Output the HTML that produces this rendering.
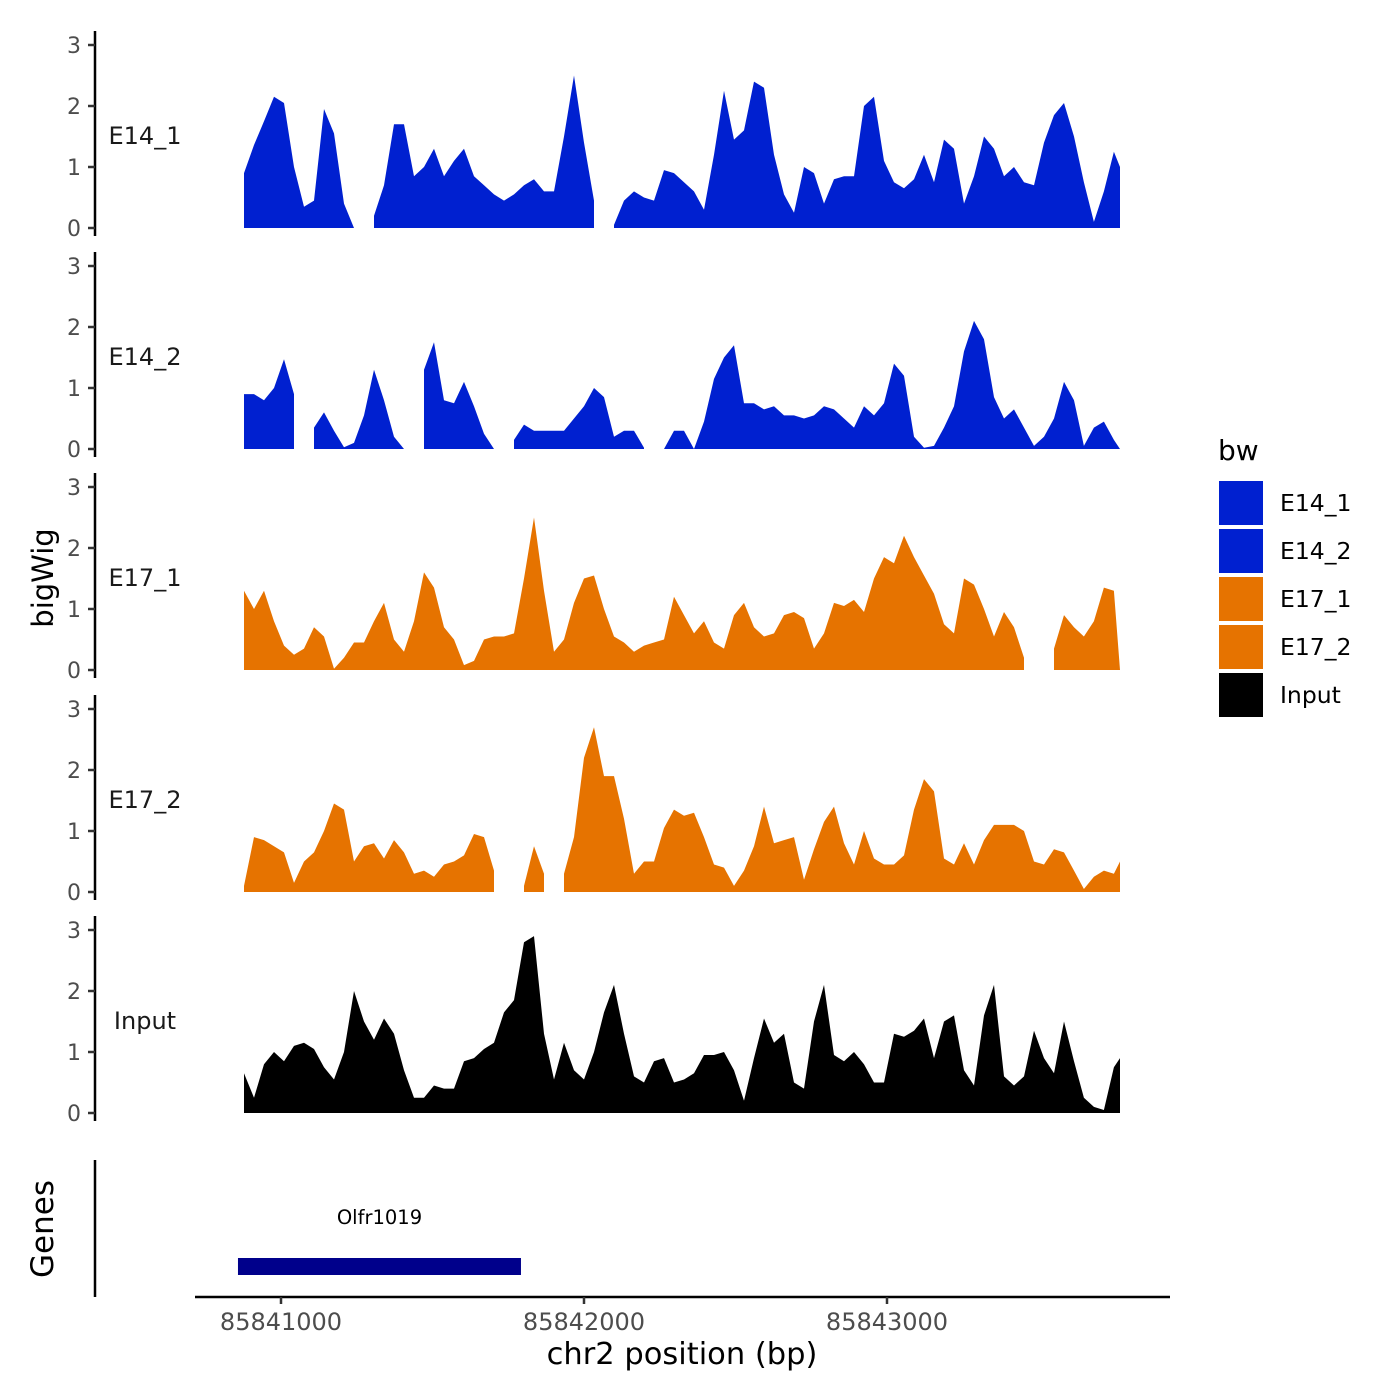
<!DOCTYPE html>
<html><head><meta charset="utf-8">
<style>
html,body{margin:0;padding:0;background:#fff;}
svg{display:block;font-family:"DejaVu Sans","Liberation Sans",sans-serif;}
</style></head>
<body>
<svg id="chart" width="1400" height="1400" viewBox="0 0 1400 1400"></svg>
<script>
// ---- data ----
const START = 85840878;
const END = 85843769;
const STEP = 33;
const xTicks = [85841000, 85842000, 85843000];
const xTickLabels = ["85841000", "85842000", "85843000"];
const yTicks = [0, 1, 2, 3];
const trackNames = ["E14_1", "E14_2", "E17_1", "E17_2", "Input"];
const trackColors = ["#0020d0", "#0020d0", "#e67300", "#e67300", "#000000"];
const E14_1 = [0.9,1.36,1.75,2.15,2.05,1.0,0.35,0.45,1.95,1.55,
0.4,0,null,0.2,0.7,1.7,1.7,0.85,1.0,1.3,
0.85,1.1,1.3,0.85,0.7,0.55,0.45,0.55,0.7,0.8,
0.6,0.6,1.5,2.5,1.4,0.45,null,0.05,0.45,0.6,
0.5,0.45,0.95,0.9,0.75,0.6,0.3,1.2,2.25,1.45,
1.6,2.4,2.3,1.2,0.55,0.25,1.0,0.9,0.4,0.8,
0.85,0.85,2.0,2.15,1.1,0.75,0.65,0.8,1.2,0.75,
1.45,1.3,0.4,0.85,1.5,1.3,0.85,1.0,0.75,0.7,
1.4,1.85,2.05,1.5,0.75,0.1,0.6,1.25,1.0];
const E14_2 = [0.9,0.9,0.8,1.0,1.47,0.9,null,0.35,0.6,0.3,
0.03,0.1,0.55,1.3,0.8,0.2,0,null,1.3,1.75,
0.8,0.75,1.1,0.7,0.25,0,null,0.15,0.4,0.3,
0.3,0.3,0.3,0.5,0.7,1.0,0.85,0.2,0.3,0.3,
0.02,null,0,0.3,0.3,0,0.45,1.15,1.5,1.7,
0.75,0.75,0.65,0.7,0.55,0.55,0.5,0.55,0.7,0.65,
0.5,0.35,0.7,0.55,0.75,1.4,1.2,0.2,0.02,0.05,
0.35,0.7,1.6,2.1,1.8,0.85,0.5,0.65,0.35,0.05,
0.2,0.5,1.1,0.8,0.05,0.35,0.45,0.15,0];
const E17_1 = [1.3,1.0,1.3,0.8,0.4,0.25,0.35,0.7,0.55,0.02,
0.2,0.45,0.45,0.8,1.1,0.5,0.3,0.8,1.6,1.35,
0.7,0.5,0.08,0.15,0.5,0.55,0.55,0.6,1.5,2.5,
1.3,0.3,0.5,1.1,1.5,1.55,1.0,0.55,0.45,0.3,
0.4,0.45,0.5,1.2,0.9,0.6,0.8,0.45,0.35,0.9,
1.1,0.7,0.55,0.6,0.9,0.95,0.85,0.35,0.6,1.1,
1.05,1.15,0.95,1.5,1.85,1.75,2.2,1.85,1.55,1.25,
0.75,0.6,1.5,1.4,1.0,0.55,0.95,0.7,0.2,null,
null,0.35,0.9,0.7,0.55,0.8,1.35,1.3,0];
const E17_2 = [0.1,0.9,0.85,0.75,0.65,0.15,0.5,0.65,1.0,1.45,
1.35,0.5,0.75,0.8,0.55,0.85,0.65,0.3,0.35,0.25,
0.45,0.5,0.6,0.95,0.9,0.35,null,null,0.1,0.75,
0.3,null,0.3,0.9,2.2,2.7,1.9,1.9,1.2,0.3,
0.5,0.5,1.05,1.35,1.25,1.3,0.9,0.45,0.4,0.1,
0.35,0.75,1.4,0.8,0.85,0.9,0.2,0.7,1.15,1.4,
0.8,0.45,1.0,0.55,0.45,0.45,0.6,1.35,1.85,1.65,
0.55,0.45,0.8,0.45,0.85,1.1,1.1,1.1,1.0,0.5,
0.45,0.7,0.65,0.35,0.05,0.25,0.35,0.3,0.5];
const INPUT = [0.65,0.25,0.8,1.0,0.85,1.1,1.15,1.05,0.75,0.55,
1.0,2.0,1.5,1.2,1.55,1.3,0.7,0.25,0.25,0.45,
0.4,0.4,0.85,0.9,1.05,1.15,1.65,1.85,2.8,2.9,
1.3,0.55,1.15,0.7,0.55,1.0,1.65,2.1,1.3,0.6,
0.5,0.85,0.9,0.5,0.55,0.65,0.95,0.95,1.0,0.7,
0.2,0.9,1.55,1.15,1.3,0.5,0.4,1.5,2.1,0.95,
0.85,1.0,0.8,0.5,0.5,1.3,1.25,1.35,1.55,0.9,
1.5,1.6,0.7,0.45,1.6,2.1,0.6,0.45,0.6,1.35,
0.9,0.65,1.5,0.85,0.25,0.1,0.05,0.75,0.9];
const trackValues = [E14_1, E14_2, E17_1, E17_2, INPUT];
const geneName = "Olfr1019";
const geneStart = 85840858;
const geneEnd = 85841792;

// ---- scales ----
const xScale = bp => 281 + (bp - 85841000) * 0.303;
const panelBase = [228, 449, 670, 892, 1113];
const UNIT = 61;
const yScale = (p, v) => panelBase[p] - v * UNIT;

const NS = "http://www.w3.org/2000/svg";
const svg = document.getElementById("chart");
function mk(tag, attrs, parent) {
  const e = document.createElementNS(NS, tag);
  for (const k in attrs) e.setAttribute(k, attrs[k]);
  (parent || svg).appendChild(e);
  return e;
}

trackValues.forEach((vals, p) => {
  const g = mk("g", {});
  
  
  const top = panelBase[p] - 197, bot = panelBase[p] + 8;
  const ax = mk("line", {x1: 95, x2: 95, y1: top, y2: bot, stroke: "#000", "stroke-width": 2.5}, g);
  
  
  yTicks.forEach(t => {
    const y = yScale(p, t);
    const tk = mk("line", {x1: 88, x2: 95, y1: y, y2: y, stroke: "#333", "stroke-width": 2.5}, g);
    
    
    const tl = mk("text", {x: 81, y: y + 8, "text-anchor": "end", "font-size": 22, fill: "#4d4d4d"}, g);
    tl.textContent = String(t);
    
    
  });
  const lab = mk("text", {x: 145, y: panelBase[p] - 84, "text-anchor": "middle", "font-size": 24, fill: "#1a1a1a"}, g);
  lab.textContent = trackNames[p];
  
  
  let seg = [];
  const segs = [];
  vals.forEach((v, i) => {
    if (v === null) { if (seg.length) segs.push(seg); seg = []; return; }
    const bp = Math.min(START + i * STEP, END);
    seg.push([xScale(bp), yScale(p, v)]);
  });
  if (seg.length) segs.push(seg);
  segs.forEach(s => {
    const b = panelBase[p];
    let d = "M" + s[0][0].toFixed(1) + "," + b;
    s.forEach(pt => d += " L" + pt[0].toFixed(1) + "," + pt[1].toFixed(1));
    d += " L" + s[s.length - 1][0].toFixed(1) + "," + b + " Z";
    const a = mk("path", {d: d, fill: trackColors[p]}, g);
    
    
  });
});

// genes panel
const gAx = mk("line", {x1: 95, x2: 95, y1: 1160, y2: 1297, stroke: "#000", "stroke-width": 2.5});


const gBar = mk("rect", {x: xScale(geneStart), y: 1258, width: xScale(geneEnd) - xScale(geneStart), height: 17, fill: "#00008b"});


const gLab = mk("text", {x: (xScale(geneStart) + xScale(geneEnd)) / 2, y: 1224, "text-anchor": "middle", "font-size": 19.5, fill: "#000"});
gLab.textContent = geneName;



// x axis
const xAx = mk("line", {x1: 195, x2: 1170, y1: 1297, y2: 1297, stroke: "#000", "stroke-width": 2.5});


xTicks.forEach((t, i) => {
  const x = xScale(t);
  const tk = mk("line", {x1: x, x2: x, y1: 1297, y2: 1304, stroke: "#333", "stroke-width": 2.5});
  
  
  const tl = mk("text", {x: x, y: 1330, "text-anchor": "middle", "font-size": 24, fill: "#4d4d4d"});
  tl.textContent = xTickLabels[i];
  
  
});
const xt = mk("text", {x: 682, y: 1364, "text-anchor": "middle", "font-size": 30.5, fill: "#000"});
xt.textContent = "chr2 position (bp)";



const yt = mk("text", {x: 0, y: 0, "text-anchor": "middle", "font-size": 29, fill: "#000", transform: "translate(53,578) rotate(-90)"});
yt.textContent = "bigWig";


const gt = mk("text", {x: 0, y: 0, "text-anchor": "middle", "font-size": 31, fill: "#000", transform: "translate(53,1229) rotate(-90)"});
gt.textContent = "Genes";



// legend
const legTitle = mk("text", {x: 1218, y: 460, "font-size": 28, fill: "#000"});
legTitle.textContent = "bw";


trackNames.forEach((n, i) => {
  const y = 481 + i * 48;
  const r = mk("rect", {x: 1219, y: y, width: 44, height: 44, fill: trackColors[i]});
  
  
  const t = mk("text", {x: 1280, y: y + 30, "font-size": 23.5, fill: "#000"});
  t.textContent = n;
  
  
});
</script>
</body></html>
